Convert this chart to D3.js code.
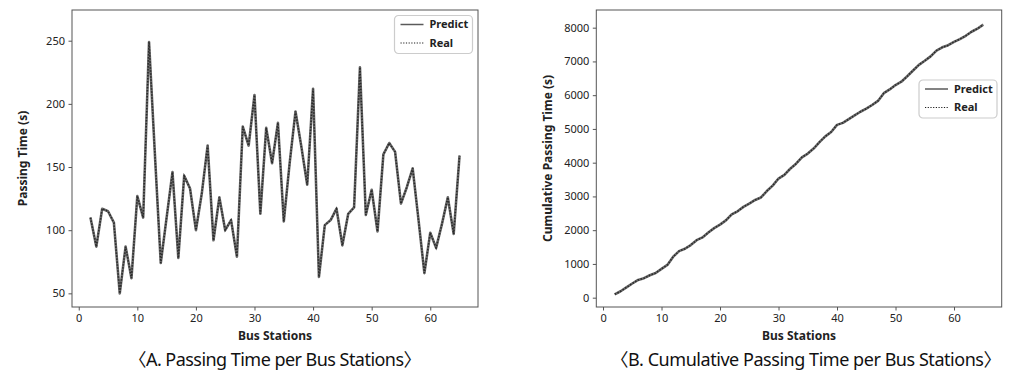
<!DOCTYPE html>
<html>
<head>
<meta charset="utf-8">
<script src="https://cdn.jsdelivr.net/npm/d3@7"></script>
<style>
    body { margin: 0; background: #fff; }
    svg text { font-family: "Noto Sans", "Noto Sans CJK KR", sans-serif; }
</style>
</head>
<body>
<svg id="chart" width="1011" height="372"></svg>
<script>
// bus station index (x axis, both charts)
const stations = [2, 3, 4, 5, 6, 7, 8, 9, 10, 11, 12, 13, 14, 15, 16, 17, 18, 19, 20, 21,
    22, 23, 24, 25, 26, 27, 28, 29, 30, 31, 32, 33, 34, 35, 36, 37, 38, 39, 40, 41,
    42, 43, 44, 45, 46, 47, 48, 49, 50, 51, 52, 53, 54, 55, 56, 57, 58, 59, 60, 61,
    62, 63, 64, 65];

// chart A: passing time per station (predict and real overlap)
const passingPredict = [110, 87, 117, 115, 106, 50, 87, 62, 127, 110,
    249, 160, 74, 110, 146, 78, 143, 133, 100, 129,
    167, 92, 126, 100, 108, 79, 182, 167, 207, 113,
    181, 153, 185, 107, 153, 194, 166, 136, 212, 63,
    104, 108, 117, 88, 113, 118, 229, 112, 132, 99,
    160, 169, 162, 121, 134, 149, 108, 66, 98, 86,
    105, 126, 97, 159];
const passingReal = passingPredict;

// chart B: cumulative passing time
const cumulativePredict = [100, 190, 305, 420, 525, 578, 665, 730, 855, 970,
    1215, 1380, 1450, 1560, 1705, 1785, 1930, 2060, 2165, 2290,
    2470, 2560, 2690, 2790, 2895, 2970, 3160, 3320, 3530, 3640,
    3820, 3970, 4160, 4270, 4420, 4610, 4780, 4910, 5120, 5180,
    5290, 5400, 5510, 5600, 5710, 5830, 6060, 6170, 6300, 6400,
    6560, 6730, 6900, 7020, 7150, 7320, 7420, 7480, 7580, 7660,
    7760, 7880, 7970, 8090];
const cumulativeReal = cumulativePredict;

const xTicks = [0, 10, 20, 30, 40, 50, 60];
const yTicksA = [50, 100, 150, 200, 250];
const yTicksB = [0, 1000, 2000, 3000, 4000, 5000, 6000, 7000, 8000];
const seriesNames = ["Predict", "Real"];

const svg = d3.select("#chart");

function drawPanel(opt) {
    const xScale = d3.scaleLinear()
        .domain([-1.15, 68.15])
        .range([opt.left, opt.right]);
    const yScale = d3.scaleLinear()
        .domain(opt.yDomain)
        .range([opt.bottom, opt.top]);

    const g = svg.append("g");

    const xAxis = g.append("g")
        .attr("transform", `translate(0, ${opt.bottom})`)
        .call(d3.axisBottom(xScale).tickValues(xTicks).tickSize(3.5).tickPadding(3.5).tickFormat(d3.format("d")));
    const yAxis = g.append("g")
        .attr("transform", `translate(${opt.left}, 0)`)
        .call(d3.axisLeft(yScale).tickValues(opt.yTicks).tickSize(3.5).tickPadding(3.5).tickFormat(d3.format("d")));
    [xAxis, yAxis].forEach(function (a) {
        a.select(".domain").remove();
        a.selectAll("line").attr("stroke", "#555");
        a.selectAll("text")
            .attr("fill", "#222")
            .style("font-family", "'Noto Sans', sans-serif")
            .style("font-size", "11px");
    });

    const line = d3.line()
        .x(function (d, i) { return xScale(stations[i]); })
        .y(function (d) { return yScale(d); });

    g.append("path")
        .datum(opt.predict)
        .attr("fill", "none")
        .attr("stroke", "#6a6a6a")
        .attr("stroke-width", 2.6)
        .attr("stroke-linejoin", "round")
        .attr("d", line);
    g.append("path")
        .datum(opt.real)
        .attr("fill", "none")
        .attr("stroke", "#2a2a2a")
        .attr("stroke-width", 1.6)
        .attr("stroke-dasharray", "1.5,1.5")
        .attr("d", line);

    // frame
    g.append("rect")
        .attr("x", opt.left)
        .attr("y", opt.top)
        .attr("width", opt.right - opt.left)
        .attr("height", opt.bottom - opt.top)
        .attr("fill", "none")
        .attr("stroke", "#555")
        .attr("stroke-width", 1);

    // axis titles
    g.append("text")
        .attr("x", (opt.left + opt.right) / 2)
        .attr("y", 340)
        .attr("text-anchor", "middle")
        .attr("font-weight", "bold")
        .attr("fill", "#222")
        .style("font-size", "12px")
        .text("Bus Stations");
    g.append("text")
        .attr("transform", `translate(${opt.yLabelX}, ${(opt.top + opt.bottom) / 2}) rotate(-90)`)
        .attr("text-anchor", "middle")
        .attr("dy", "0.35em")
        .attr("font-weight", "bold")
        .attr("fill", "#222")
        .style("font-size", "12px")
        .text(opt.yLabel);

    // caption
    g.append("text")
        .attr("x", opt.captionX)
        .attr("y", 366)
        .attr("text-anchor", "middle")
        .attr("fill", "#111")
        .style("font-size", "18px")
        .attr("textLength", opt.captionWidth)
        .attr("lengthAdjust", "spacing")
        .text(opt.caption);

    // legend
    const lg = g.append("g")
        .attr("transform", `translate(${opt.legendX}, ${opt.legendY})`);
    lg.append("rect")
        .attr("width", 78)
        .attr("height", 38)
        .attr("rx", 4)
        .attr("fill", "#fff")
        .attr("stroke", "#ccc")
        .attr("stroke-width", 1.2);
    seriesNames.forEach(function (name, i) {
        const y = 9 + i * 18.5;
        lg.append("line")
            .attr("x1", 6).attr("x2", 29)
            .attr("y1", y).attr("y2", y)
            .attr("stroke", i == 0 ? "#5a5a5a" : "#1e1e1e")
            .attr("stroke-width", i == 0 ? 1.5 : 1.2)
            .attr("stroke-dasharray", i == 0 ? null : "1.2,1.5");
        lg.append("text")
            .attr("x", 35)
            .attr("y", y)
            .attr("dy", "0.35em")
            .attr("font-weight", "bold")
            .attr("fill", "#222")
            .style("font-size", "11px")
            .text(name);
    });
}

drawPanel({
    left: 72, right: 478, top: 10, bottom: 307,
    yDomain: [39.2, 274.3],
    yTicks: yTicksA,
    predict: passingPredict,
    real: passingReal,
    yLabel: "Passing Time (s)",
    yLabelX: 23,
    caption: "〈A. Passing Time per Bus Stations〉",
    captionX: 275,
    captionWidth: 293,
    legendX: 394.5, legendY: 15.5
});

drawPanel({
    left: 596.3, right: 1001.7, top: 10, bottom: 307,
    yDomain: [-276, 8524],
    yTicks: yTicksB,
    predict: cumulativePredict,
    real: cumulativeReal,
    yLabel: "Cumulative Passing Time (s)",
    yLabelX: 548,
    caption: "〈B. Cumulative Passing Time per Bus Stations〉",
    captionX: 806,
    captionWidth: 391,
    legendX: 919, legendY: 80
});
</script>
</body>
</html>
